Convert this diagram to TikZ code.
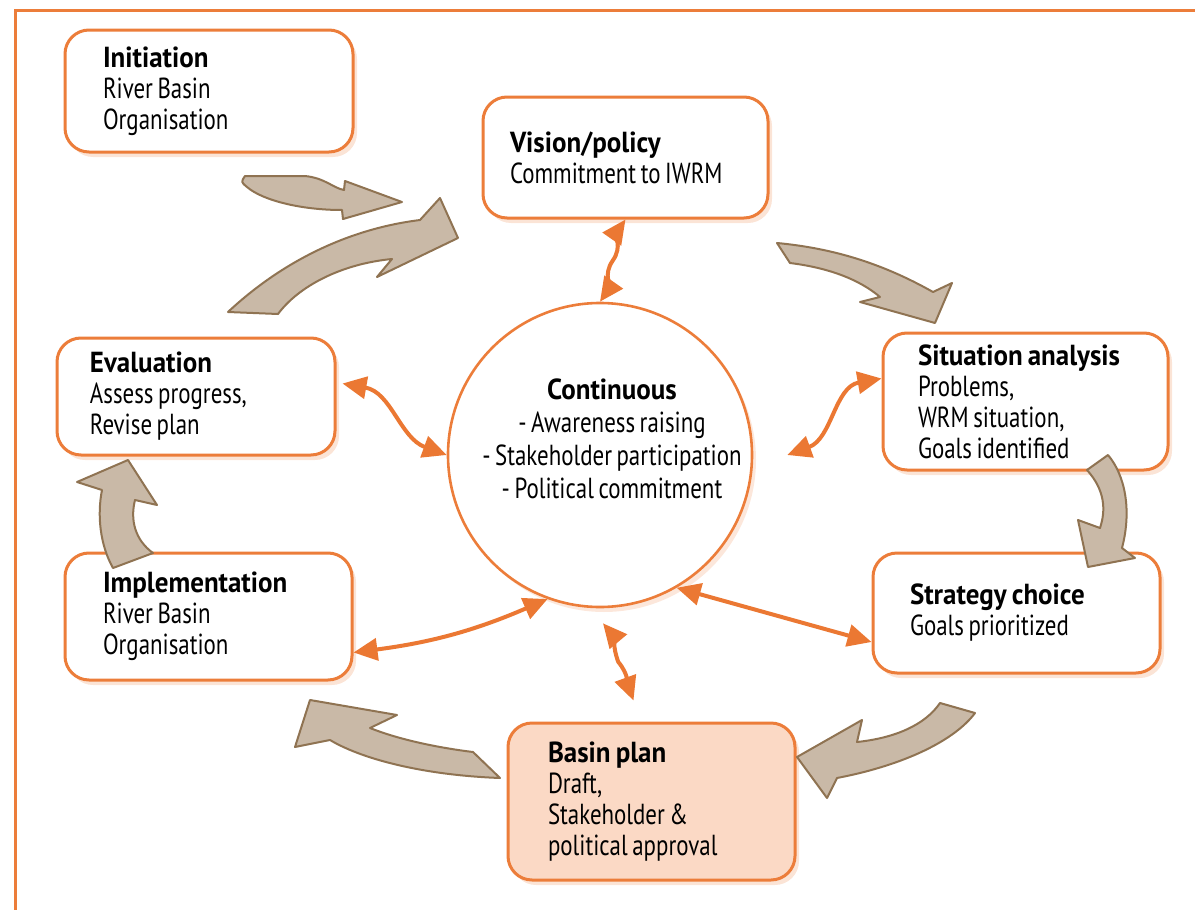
\documentclass[tikz,border=0pt]{standalone}
\usepackage{fontspec}
\setmainfont{PT Sans}[FakeStretch=0.79,WordSpace=0.75,
  BoldFeatures={FakeStretch=0.93}]
\usetikzlibrary{calc,arrows.meta,shadows}
\definecolor{rim}{HTML}{EC7D3A}
\definecolor{wire}{HTML}{EB7833}
\definecolor{peach}{HTML}{FBD9C5}
\definecolor{sand}{HTML}{C9B9A7}
\definecolor{bark}{HTML}{8F7352}
\tikzset{>={Triangle[length=12pt,width=11pt]}}
\tikzset{
  box/.style={draw=rim, line width=1.5pt, rounded corners=12pt, fill=white,
    align=flush left, inner ysep=0pt, font=\fontsize{14.5}{15.5}\selectfont,
    drop shadow={fill=rim!60, opacity=.35, shadow xshift=2pt, shadow yshift=-2.5pt}},
  hub/.style={circle, draw=rim, line width=1.3pt, fill=white,
    drop shadow={fill=rim!60, opacity=.3, shadow xshift=2pt, shadow yshift=-2.5pt}},
  flow/.style={fill=sand, draw=bark, line width=1pt, line join=round},
  link/.style={<->, draw=wire, line width=2pt},
  frame/.style={draw=rim, line width=1.5pt}
}

\begin{document}
\begin{tikzpicture}[x=0.5pt,y=-0.5pt]
\useasboundingbox (0,0) rectangle (1195,910);
\draw[frame] (15,910) -- (15,10) -- (1195,10);

% stages
\node[box, text width=106pt, inner xsep=19pt, minimum height=61pt] (init)
  at (209,91) {\textbf{Initiation}\\River Basin\\Organisation};
\node[box, text width=115.5pt, inner xsep=13.5pt, minimum height=60.5pt] (vis)
  at (625.5,157.5) {\textbf{Vision/policy}\\Commitment to IWRM};
\node[box, text width=107.5pt, inner xsep=17.5pt, minimum height=68.5pt] (sit)
  at (1025.5,401.5) {\textbf{Situation analysis}\\Problems,\\WRM situation,\\Goals identified};
\node[box, text width=106.5pt, inner xsep=18.5pt, minimum height=60pt] (strat)
  at (1016.5,613) {\textbf{Strategy choice}\\Goals prioritized};
\node[box, fill=peach, text width=103.5pt, inner xsep=20pt, minimum height=78.5pt] (plan)
  at (651.5,801.5) {\textbf{Basin plan}\\Draft,\\Stakeholder \&\\political approval};
\node[box, text width=105.5pt, inner xsep=19pt, minimum height=63.5pt] (impl)
  at (208.5,616.5) {\textbf{Implementation}\\River Basin\\Organisation};
\node[box, text width=106pt, inner xsep=16.5pt, minimum height=58.5pt] (eval)
  at (196,396.5) {\textbf{Evaluation}\\Assess progress,\\Revise plan};

% centre
\node[hub, minimum size=152pt] (core) at (600,455) {};
\node[align=center, font=\fontsize{14.5}{16.5}\selectfont] (core-t) at (612,439)
  {\textbf{Continuous}\\- Awareness raising\\- Stakeholder participation\\- Political commitment};

% cycle arrows
\filldraw[flow] (245,176) -- (305,176) .. controls (325,178) and (333,188) .. (344,190)
  -- (345,181) -- (402,202) -- (343,219) -- (342,210)
  .. controls (300,210) and (262,200) .. (247,187) .. controls (241,182) .. cycle;
\filldraw[flow] (228,312) .. controls (275,268) and (340,230) .. (420,220)
  -- (440,198) -- (458,238) -- (377,277) -- (392,259)
  .. controls (340,264) and (298,287) .. (278,314) -- cycle;
\filldraw[flow] (777,243) .. controls (830,248) and (880,262) .. (933,292)
  -- (952,283) -- (935,323) -- (860,302) -- (880,297)
  .. controls (860,280) and (830,268) .. (790,263) -- cycle;
\filldraw[flow] (1108,455) .. controls (1125,475) and (1132,510) .. (1122,548)
  -- (1135,558) -- (1088,567) -- (1078,520) -- (1100,528)
  .. controls (1106,510) and (1105,490) .. (1087,470) -- cycle;
\filldraw[flow] (975,713) .. controls (955,740) and (905,765) .. (837,778)
  -- (827,798) -- (797,757) -- (862,720) -- (857,742)
  .. controls (895,738) and (925,725) .. (940,703) -- cycle;
\filldraw[flow] (473,752) .. controls (440,748) and (400,740) .. (370,728)
  -- (397,715) -- (310,700) -- (295,747) -- (330,740)
  .. controls (360,758) and (420,775) .. (500,778) -- cycle;
\filldraw[flow] (113,568) .. controls (100,545) and (97,515) .. (102,490)
  -- (77,482) -- (128,460) -- (157,505) -- (135,500)
  .. controls (130,520) and (135,540) .. (153,553) -- cycle;

% links to the centre
\coordinate (eval-out) at ([xshift=3pt,yshift=6.5pt]eval.east);
\coordinate (sit-out) at ([yshift=11.5pt]sit.west);
\coordinate (sit-in) at ([xshift=17pt]core.east);
\coordinate (impl-out) at ([yshift=-18pt]impl.east);
\coordinate (plan-top) at ([xshift=1.5pt,yshift=-7.5pt]core.south);
\coordinate (plan-end) at ([xshift=-9pt,yshift=10.5pt]plan.north);
\coordinate (strat-out) at ([yshift=-14.5pt]strat.west);
\draw[link] (vis.south) to[out=-125,in=55] ($(vis.south)!.5!(core.north)$)
  to[out=-125,in=55] (core.north);
\draw[link] (eval-out) to[out=-10,in=160] (core.west);
\draw[link] (sit-out) to[out=190,in=20] (sit-in);
\draw[link] (impl-out) to[bend right=8] (core.250);
\draw[link] (plan-top) to[out=-50,in=110] ($(plan-top)!.5!(plan-end)$)
  to[out=-50,in=110] (plan-end);
\draw[link] (core.-60) -- (strat-out);
\end{tikzpicture}
\end{document}
